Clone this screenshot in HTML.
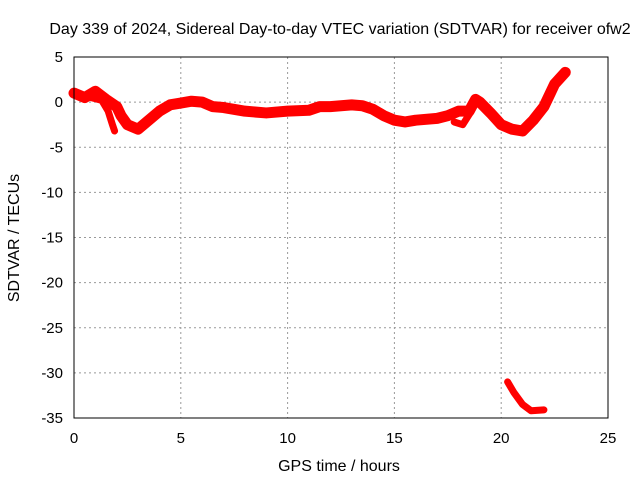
<!DOCTYPE html>
<html><head><meta charset="utf-8"><style>body{margin:0;background:#fff}svg{display:block;font-family:"Liberation Sans",sans-serif}</style></head>
<body>
<svg id="c" width="640" height="480">
<text x="340" y="34" font-size="16" text-anchor="middle">Day 339 of 2024, Sidereal Day-to-day VTEC variation (SDTVAR) for receiver ofw2</text>
<text x="339" y="471" font-size="16" text-anchor="middle">GPS time / hours</text>
<text transform="translate(19,238) rotate(-90)" font-size="16" text-anchor="middle">SDTVAR / TECUs</text>
<g id="grid"></g><g id="series"></g>
<rect x="74" y="57" width="534" height="361" fill="none" stroke="#000" stroke-width="1"/>
</svg>
<script>
const xTicks=[0,5,10,15,20,25];
const yTicks=[5,0,-5,-10,-15,-20,-25,-30,-35];
const mainT=[0,0.5,1,1.5,2,2.2,2.5,3,3.5,4,4.5,5,5.5,6,6.5,7,8,9,10,11,11.5,12,13,13.5,14,14.5,15,15.5,16,17,17.5,18,18.5,18.8,19,19.5,20,20.5,21,21.5,22,22.3,22.5,23];
const mainV=[1,0.5,1.2,0.3,-0.5,-1.5,-2.5,-3,-2,-1,-0.3,-0.1,0.1,0,-0.5,-0.6,-1,-1.2,-1,-0.9,-0.5,-0.5,-0.3,-0.4,-0.8,-1.5,-2,-2.2,-2,-1.8,-1.5,-1,-1,0.3,0,-1.2,-2.5,-3,-3.2,-2,-0.5,1,2,3.3];
const branchT=[0.8,1.3,1.6,1.8,1.9];
const branchV=[0.5,0.2,-1,-2.5,-3.2];
const branch2T=[17.8,18.2,18.6,18.8];
const branch2V=[-2.2,-2.5,-1,0];
const lowT=[20.3,20.6,21,21.4,22];
const lowV=[-31,-32.2,-33.5,-34.2,-34.1];
const X=t=>74+t*534/25, Y=v=>57+(5-v)*361/40;
const ns="http://www.w3.org/2000/svg";
const g=document.getElementById('grid'), s=document.getElementById('series');
function mk(tag,a,p){const e=document.createElementNS(ns,tag);for(const k in a)e.setAttribute(k,a[k]);p.appendChild(e);return e;}
xTicks.forEach(t=>{
 const l=mk('line',{x1:X(t),x2:X(t),y1:57,y2:418,stroke:'#999','stroke-dasharray':'2,3'},g);
 
 
 const tx=mk('text',{x:X(t),y:443,'font-size':15,'text-anchor':'middle'},g);tx.textContent=t;
 
 
});
yTicks.forEach(v=>{
 const l=mk('line',{x1:74,x2:608,y1:Y(v),y2:Y(v),stroke:'#999','stroke-dasharray':'2,3'},g);
 
 
 const tx=mk('text',{x:63,y:Y(v)+5,'font-size':15,'text-anchor':'end'},g);tx.textContent=v;
 
 
});
function line(T,V,name,w){
 const p=mk('polyline',{points:T.map((t,i)=>X(t)+','+Y(V[i])).join(' '),fill:'none',stroke:'#f00','stroke-width':w,'stroke-linejoin':'round','stroke-linecap':'round'},s);
 
 
}
line(mainT,mainV,'sdtvar-main-series',11);
line(branchT,branchV,'sdtvar-branch-series',7);
line(branch2T,branch2V,'sdtvar-branch2-series',7);
line(lowT,lowV,'sdtvar-low-series',7);
</script>
</body></html>
